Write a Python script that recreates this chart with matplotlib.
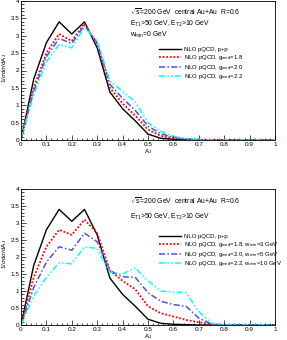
import numpy as np
import matplotlib
matplotlib.use("Agg")
import matplotlib.pyplot as plt
from matplotlib.ticker import MultipleLocator, FuncFormatter

# A_J bins
aj = [0.0, 0.05, 0.1, 0.15, 0.2, 0.25, 0.3, 0.35, 0.4, 0.45, 0.5,
      0.55, 0.6, 0.65, 0.7, 0.75, 0.8, 0.85, 0.9, 0.95, 1.0]

# top panel, w_min = 0 GeV
pp_top = [0.0, 1.75, 2.8, 3.4, 3.05, 3.4, 2.65, 1.38, 0.9, 0.55, 0.17,
          0.05, 0.02, 0.01, 0, 0, 0, 0, 0, 0, 0]
g18_top = [0.05, 1.5, 2.5, 3.05, 2.85, 3.35, 2.75, 1.5, 1.05, 0.7, 0.3,
           0.12, 0.05, 0.02, 0.01, 0, 0, 0, 0, 0, 0]
g20_top = [0.05, 1.4, 2.4, 2.92, 2.78, 3.3, 2.8, 1.6, 1.2, 0.85, 0.4,
           0.18, 0.08, 0.03, 0.01, 0, 0, 0, 0, 0, 0]
g22_top = [0.05, 1.3, 2.25, 2.75, 2.65, 3.25, 2.85, 1.7, 1.4, 1.1, 0.5,
           0.25, 0.1, 0.04, 0.02, 0, 0, 0, 0, 0, 0]

# bottom panel, different w_min
g18_bot = [0.0, 1.4, 2.3, 2.8, 2.65, 3.1, 2.7, 1.6, 1.3, 1.05, 0.55,
           0.35, 0.25, 0.15, 0.08, 0.02, 0, 0, 0, 0, 0]
g20_bot = [0.0, 1.1, 1.85, 2.3, 2.2, 2.7, 2.45, 1.6, 1.42, 1.4, 0.95,
           0.7, 0.6, 0.55, 0.2, 0.03, 0, 0, 0, 0, 0]
g22_bot = [0.0, 0.85, 1.4, 1.83, 1.8, 2.3, 2.25, 1.55, 1.5, 1.68, 1.3,
           1.0, 0.97, 0.95, 0.4, 0.05, 0, 0, 0, 0, 0]

labels_top = ["NLO pQCD, p+p",
              r"NLO pQCD, g$_{\rm med}$=1.8",
              r"NLO pQCD, g$_{\rm med}$=2.0",
              r"NLO pQCD, g$_{\rm med}$=2.2"]
labels_bot = ["NLO pQCD, p+p",
              r"NLO pQCD, g$_{\rm med}$=1.8, w$_{\rm min}$=3 GeV",
              r"NLO pQCD, g$_{\rm med}$=2.0, w$_{\rm min}$=5 GeV",
              r"NLO pQCD, g$_{\rm med}$=2.2, w$_{\rm min}$=10 GeV"]

plt.rcParams['font.family'] = 'Liberation Sans'
plt.rcParams['mathtext.fontset'] = 'custom'
plt.rcParams['mathtext.rm'] = 'Liberation Sans'
plt.rcParams['mathtext.it'] = 'Liberation Sans:italic'
fs = 4.6

W, H = 287, 340
fig = plt.figure(figsize=(W / 100, H / 100), dpi=100)

styles = [dict(color='black', lw=1.0, ls='-'),
          dict(color='red', lw=1.3, ls=(0, (1, 1))),
          dict(color='#5050e0', lw=1.1, ls=(0, (4, 1.5, 1, 1.5))),
          dict(color='cyan', lw=1.1, ls=(0, (4, 1.5, 1, 1.5, 1, 1.5)))]

fmt = FuncFormatter(lambda v, p: '%g' % round(v, 2))


def panel(rect, series, labels, texts, leg_y):
    ax = fig.add_axes(rect)
    for y, st, lab in zip(series, styles, labels):
        ax.plot(aj, y, label=lab, **st)
    ax.set_xlim(0, 1)
    ax.set_ylim(0, 4)
    ax.xaxis.set_major_locator(MultipleLocator(0.1))
    ax.xaxis.set_minor_locator(MultipleLocator(0.02))
    ax.yaxis.set_major_locator(MultipleLocator(0.5))
    ax.yaxis.set_minor_locator(MultipleLocator(0.1))
    ax.xaxis.set_major_formatter(fmt)
    ax.yaxis.set_major_formatter(fmt)
    ax.tick_params(which='both', direction='in', labelsize=fs, pad=1.2,
                   width=0.5)
    ax.tick_params(which='major', length=3.5)
    ax.tick_params(which='minor', length=1.8)
    for s in ax.spines.values():
        s.set_linewidth(0.6)
    ax.set_xlabel(r"A$_{\rm J}$", fontsize=fs, labelpad=0.5)
    ax.set_ylabel(r"1/$\sigma$d$\sigma$/dA$_{\rm J}$", fontsize=fs)
    ax.yaxis.set_label_coords(-0.048, 0.52)
    for (tx, ty, t) in texts:
        ax.text(tx, ty, t, transform=ax.transAxes, fontsize=fs + 0.3)
    ax.legend(loc='upper left', bbox_to_anchor=(0.53, leg_y), frameon=False,
              fontsize=fs - 0.3, handlelength=3.8, handletextpad=0.5,
              labelspacing=0.12, borderpad=0)
    return ax


top_texts = [(0.43, 0.9, r"$\sqrt{\rm s}$=200 GeV  central Au+Au  R=0.6"),
             (0.43, 0.82, r"E$_{\rm T1}$>50 GeV, E$_{\rm T2}$>10 GeV"),
             (0.43, 0.74, r"w$_{\rm min}$=0 GeV")]
bot_texts = [(0.43, 0.89, r"$\sqrt{\rm s}$=200 GeV  central Au+Au  R=0.6"),
             (0.43, 0.78, r"E$_{\rm T1}$>50 GeV, E$_{\rm T2}$>10 GeV")]

panel([21 / W, 1 - 140 / H, 254 / W, 139 / H],
      [pp_top, g18_top, g20_top, g22_top], labels_top, top_texts, 0.69)
panel([21 / W, 1 - 325 / H, 254 / W, 136 / H],
      [pp_top, g18_bot, g20_bot, g22_bot], labels_bot, bot_texts, 0.69)

fig.savefig("out.png", dpi=100)
